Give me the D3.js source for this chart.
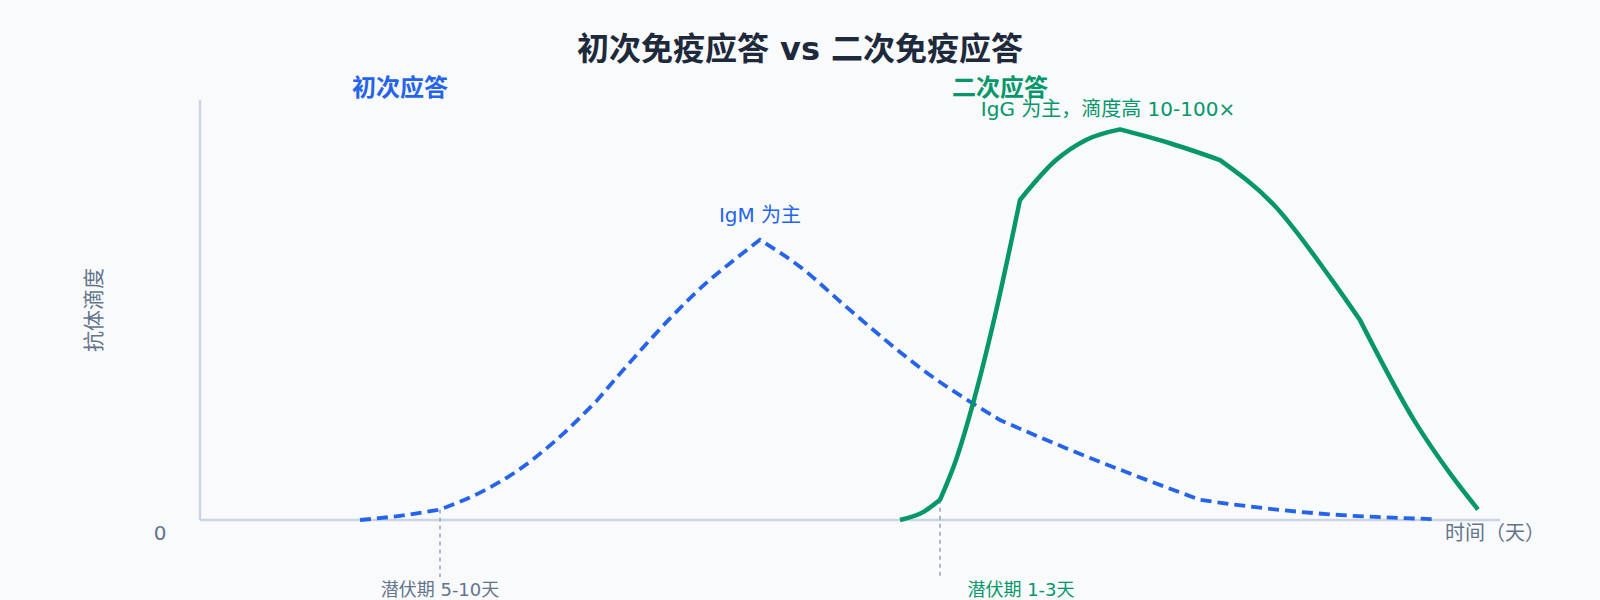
<!DOCTYPE html>
<html>
<head>
<meta charset="utf-8">
<script src="https://cdn.jsdelivr.net/npm/d3@7"></script>
<style>
  html, body { margin: 0; padding: 0; background: #f8fafc; }
  svg { display: block; font-family: "DejaVu Sans", "Noto Sans CJK SC", sans-serif; }
</style>
</head>
<body>
<svg id="chart" width="1600" height="600"></svg>
<script>
// ---- data (days, relative antibody titer 0-100) ----
const primaryDays   = [8, 10, 12, 14.2, 15.8, 17.8, 19.8, 22.2, 23.5, 25.3, 26.7, 28, 30, 32.3, 36.3, 40, 43.3, 46.7, 50, 52.5, 55.8, 61.7];
const primaryTiter  = [0, 1, 2.5, 7.0, 11.5, 19.0, 28.2, 41.3, 48.0, 56.4, 61.9, 66.7, 60.3, 50.8, 35.2, 23.8, 17.1, 10.7, 4.8, 3.2, 1.6, 0.2];
const primaryBends  = [12, 19.8, 28, 40, 50];          // days where the curve changes direction sharply
const secondaryDays  = [35, 36.2, 37, 37.8, 38.7, 39.7, 41, 42.8, 44.3, 46, 48.5, 51, 53.7, 56.6, 58, 60.8, 62.5, 63.9];
const secondaryTiter = [0, 2, 4.8, 14.3, 28.6, 47.6, 76.2, 85.7, 90.5, 93, 89.7, 85.7, 75, 57.1, 47.6, 23, 11.1, 2.5];
const secondaryBends = [37, 41, 46, 51, 58];
const latencyDays   = [12, 37];
const latencyLabels = ["潜伏期 5-10天", "潜伏期 1-3天"];
const titleText = "初次免疫应答 vs 二次免疫应答";
const groupLabels = ["初次应答", "二次应答"];
const peakNotes = ["IgM 为主", "IgG 为主，滴度高 10-100×"];
const xAxisLabel = "时间（天）";
const yAxisLabel = "抗体滴度";
const yTickLabels = ["0"];

const BLUE = "#2563eb", GREEN = "#059669", GRAY = "#64748b", AXIS = "#cbd5e1";

const svg = d3.select("#chart");
const x = d3.scaleLinear().domain([0, 65]).range([200, 1500]);
const y = d3.scaleLinear().domain([0, 100]).range([520, 100]);

// axes
svg.append("line").attr("x1", x(0)).attr("x2", x(0)).attr("y1", y(0)).attr("y2", y(100))
  .attr("stroke", AXIS).attr("stroke-width", 2.5);
svg.append("line").attr("x1", x(0)).attr("x2", x(65)).attr("y1", y(0)).attr("y2", y(0))
  .attr("stroke", AXIS).attr("stroke-width", 2.5);

svg.append("text").attr("x", x(0) - 40).attr("y", y(0) + 20).attr("text-anchor", "middle")
  .attr("font-size", 20).attr("fill", GRAY).text(yTickLabels[0]);
svg.append("text").attr("x", x(65) - 5).attr("y", y(0) + 20).attr("text-anchor", "middle")
  .attr("font-size", 20).attr("fill", GRAY).text(xAxisLabel);
svg.append("text").attr("transform", `translate(${101},${(y(0) + y(100)) / 2}) rotate(-90)`)
  .attr("text-anchor", "middle").attr("font-size", 21).attr("fill", GRAY).text(yAxisLabel);

// latency markers
const latColors = [GRAY, GREEN];
const latCurves = [[primaryDays, primaryTiter], [secondaryDays, secondaryTiter]];
latencyDays.forEach((d, i) => {
  const idx = latCurves[i][0].indexOf(d);
  const v = latCurves[i][1][idx];
  svg.append("line").attr("x1", x(d)).attr("x2", x(d)).attr("y1", y(v)).attr("y2", y(0) + 57)
    .attr("stroke", "#94a3b8").attr("stroke-width", 1.5).attr("stroke-dasharray", "4,4");
  svg.append("text").attr("x", x(d) + (i === 0 ? 0 : 81)).attr("y", 596).attr("text-anchor", "middle")
    .attr("font-size", 18).attr("fill", latColors[i]).text(latencyLabels[i]);
});

// curves: smooth pieces joined at the bend days
const seg = d3.line().x(d => x(d[0])).y(d => y(d[1])).curve(d3.curveMonotoneX);
function piecewisePath(days, vals, bends) {
  const pts = d3.zip(days, vals);
  const cuts = [days[0], ...bends, days[days.length - 1]];
  let d = "";
  for (let i = 0; i < cuts.length - 1; i++) {
    const piece = pts.filter(p => p[0] >= cuts[i] && p[0] <= cuts[i + 1]);
    let s = seg(piece);
    if (i > 0) s = s.replace(/^M[^CLZ]*/, "");
    d += s;
  }
  return d;
}
svg.append("path").attr("d", piecewisePath(primaryDays, primaryTiter, primaryBends))
  .attr("fill", "none").attr("stroke", BLUE).attr("stroke-width", 3.8).attr("stroke-dasharray", "11,6");
svg.append("path").attr("d", piecewisePath(secondaryDays, secondaryTiter, secondaryBends))
  .attr("fill", "none").attr("stroke", GREEN).attr("stroke-width", 4.5).attr("stroke-linejoin", "round");

// peak notes
const pPeak = d3.maxIndex(primaryTiter), sPeak = d3.maxIndex(secondaryTiter);
svg.append("text").attr("x", x(primaryDays[pPeak])).attr("y", y(primaryTiter[pPeak]) - 18)
  .attr("text-anchor", "middle").attr("font-size", 20).attr("fill", BLUE).text(peakNotes[0]);
svg.append("text").attr("x", x(secondaryDays[sPeak]) - 12).attr("y", 116)
  .attr("text-anchor", "middle").attr("font-size", 20).attr("fill", GREEN).text(peakNotes[1]);

// group labels
svg.append("text").attr("x", 400).attr("y", 96).attr("text-anchor", "middle")
  .attr("font-size", 24).attr("font-weight", "bold").attr("fill", BLUE).text(groupLabels[0]);
svg.append("text").attr("x", 1000).attr("y", 96).attr("text-anchor", "middle")
  .attr("font-size", 24).attr("font-weight", "bold").attr("fill", GREEN).text(groupLabels[1]);

// title
svg.append("text").attr("x", 800).attr("y", 60).attr("text-anchor", "middle")
  .attr("font-size", 32).attr("font-weight", "bold").attr("fill", "#1e293b").text(titleText);
</script>
</body>
</html>
